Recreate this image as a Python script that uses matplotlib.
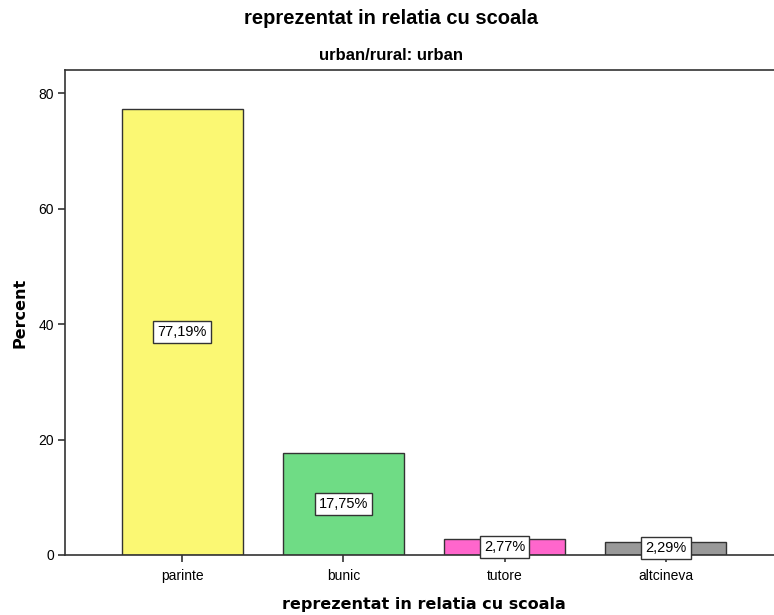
import matplotlib
matplotlib.use("Agg")
import matplotlib.pyplot as plt

categories = ["parinte", "bunic", "tutore", "altcineva"]
percents = [77.19, 17.75, 2.77, 2.29]
bar_colors = ["#FBF873", "#6FDC85", "#FF66CC", "#999999"]
yticks = [0, 20, 40, 60, 80]

plt.rcParams["font.family"] = ["Liberation Sans", "DejaVu Sans"]

fig = plt.figure(figsize=(7.74, 6.15), dpi=100)
ax = fig.add_axes([65 / 774, 1 - 555 / 615, 718 / 774, 485 / 615])

x = list(range(len(categories)))
ax.bar(x, percents, width=0.75, color=bar_colors, edgecolor="#333333", linewidth=1.0, zorder=2)

for xi, v in zip(x, percents):
    ax.text(xi, v / 2, f"{v:.2f}%".replace(".", ","), ha="center", va="center", fontsize=10.5,
            bbox=dict(boxstyle="square,pad=0.28", fc="white", ec="#333333", lw=1.0), zorder=3)

ax.set_xlim(-0.727, 3.727)
ax.set_ylim(0, 84)
ax.set_xticks(x)
ax.set_xticklabels(categories, fontsize=10)
ax.set_yticks(yticks)
ax.set_yticklabels([str(t) for t in yticks], fontsize=10)
ax.tick_params(axis="both", length=5, width=1.2, color="#333333", pad=3)
ax.tick_params(axis="x", pad=5)

for side in ["left", "top", "bottom", "right"]:
    ax.spines[side].set_color("#333333")
    ax.spines[side].set_linewidth(1.2)

label_font = dict(family="DejaVu Sans", fontweight="bold", fontsize=11.5)
ax.set_ylabel("Percent", labelpad=8, **label_font)
ax.set_xlabel("reprezentat in relatia cu scoala", labelpad=10, **label_font)

fig.text(391 / 774, 1 - 18 / 615, "reprezentat in relatia cu scoala", ha="center", va="center",
         fontsize=14.5, fontweight="bold")
fig.text(391 / 774, 1 - 55 / 615, "urban/rural: urban", ha="center", va="center",
         fontsize=12, fontweight="bold")

fig.savefig("out.png", dpi=100)
